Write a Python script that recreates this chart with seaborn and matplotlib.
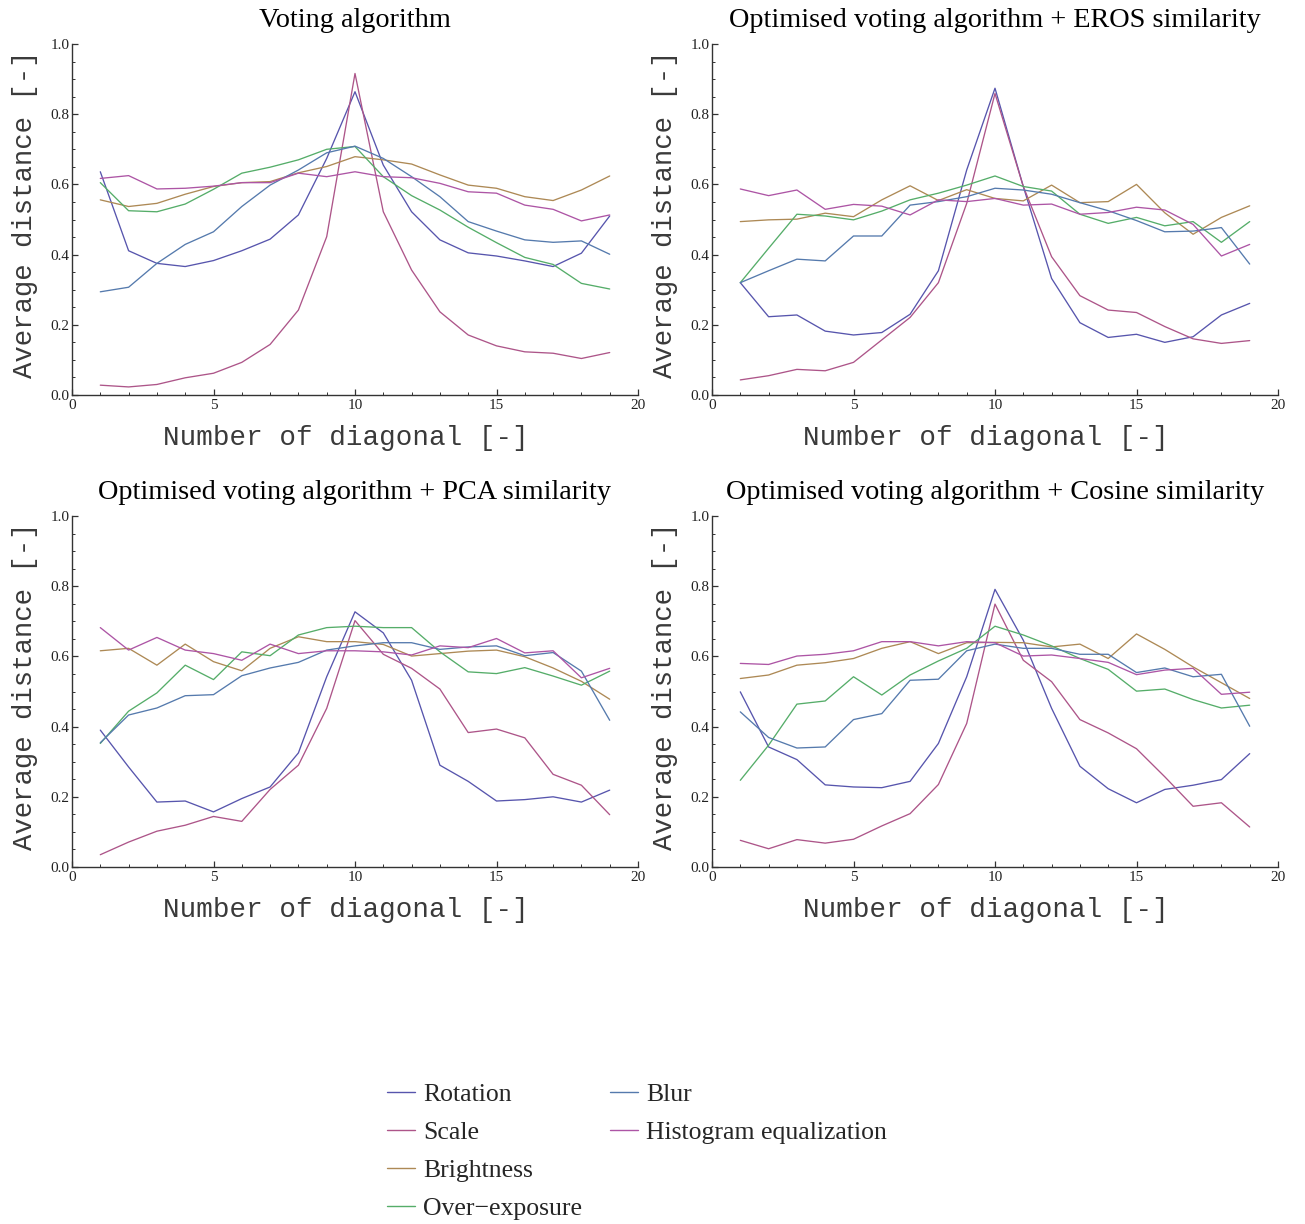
import numpy as np
import pandas as pd
import matplotlib
matplotlib.use("Agg")
import matplotlib.pyplot as plt
import seaborn as sns
from matplotlib.ticker import MultipleLocator, FormatStrFormatter
from matplotlib.lines import Line2D

# ---------------- data ----------------
diagonals = list(range(1, 20))
series_names = ["Rotation", "Scale", "Brightness", "Over\u2212exposure", "Blur",
                "Histogram equalization"]
panel_titles = ["Voting algorithm",
                "Optimised voting algorithm + EROS similarity",
                "Optimised voting algorithm + PCA similarity",
                "Optimised voting algorithm + Cosine similarity"]
x_label = "Number of diagonal [-]"
y_label = "Average distance [-]"
x_ticks = [0, 5, 10, 15, 20]
y_ticks = [0.0, 0.2, 0.4, 0.6, 0.8, 1.0]

# Panel 1: Voting algorithm
vote_rotation = [0.636, 0.411, 0.375, 0.366, 0.383, 0.411, 0.444, 0.513, 0.674, 0.864,
                 0.655, 0.522, 0.442, 0.405, 0.396, 0.382, 0.366, 0.404, 0.510]
vote_scale = [0.028, 0.023, 0.030, 0.049, 0.062, 0.093, 0.144, 0.242, 0.451, 0.916,
              0.522, 0.356, 0.237, 0.171, 0.140, 0.123, 0.119, 0.104, 0.121]
vote_brightness = [0.556, 0.537, 0.546, 0.572, 0.594, 0.605, 0.608, 0.633, 0.651, 0.679,
                   0.670, 0.658, 0.627, 0.598, 0.589, 0.565, 0.554, 0.584, 0.624]
vote_overexposure = [0.605, 0.525, 0.522, 0.544, 0.586, 0.632, 0.649, 0.670, 0.700, 0.708,
                     0.622, 0.568, 0.527, 0.478, 0.434, 0.392, 0.372, 0.318, 0.302]
vote_blur = [0.294, 0.307, 0.375, 0.429, 0.465, 0.537, 0.598, 0.641, 0.690, 0.709,
             0.674, 0.622, 0.565, 0.494, 0.467, 0.442, 0.435, 0.439, 0.401]
vote_histeq = [0.617, 0.625, 0.587, 0.589, 0.595, 0.605, 0.605, 0.632, 0.622, 0.636,
               0.622, 0.619, 0.603, 0.579, 0.575, 0.541, 0.529, 0.496, 0.513]

# Panel 2: EROS similarity
eros_rotation = [0.320, 0.223, 0.228, 0.182, 0.171, 0.178, 0.230, 0.354, 0.641, 0.874,
                 0.594, 0.332, 0.206, 0.164, 0.173, 0.150, 0.166, 0.228, 0.261]
eros_scale = [0.043, 0.055, 0.073, 0.069, 0.093, 0.157, 0.221, 0.320, 0.546, 0.859,
              0.594, 0.394, 0.283, 0.242, 0.235, 0.195, 0.160, 0.147, 0.155]
eros_brightness = [0.494, 0.499, 0.501, 0.518, 0.508, 0.556, 0.596, 0.554, 0.585, 0.560,
                   0.553, 0.598, 0.548, 0.551, 0.600, 0.519, 0.458, 0.506, 0.539]
eros_overexposure = [0.320, 0.418, 0.515, 0.510, 0.499, 0.524, 0.556, 0.575, 0.598, 0.624,
                     0.594, 0.581, 0.515, 0.489, 0.506, 0.482, 0.494, 0.435, 0.494]
eros_blur = [0.320, 0.354, 0.387, 0.382, 0.453, 0.453, 0.541, 0.551, 0.565, 0.589,
             0.584, 0.572, 0.548, 0.525, 0.497, 0.465, 0.467, 0.477, 0.373]
eros_histeq = [0.587, 0.568, 0.584, 0.529, 0.543, 0.538, 0.513, 0.556, 0.551, 0.560,
               0.541, 0.544, 0.515, 0.520, 0.535, 0.527, 0.486, 0.396, 0.429]

# Panel 3: PCA similarity
pca_rotation = [0.390, 0.285, 0.185, 0.188, 0.157, 0.195, 0.228, 0.325, 0.542, 0.727,
                0.667, 0.532, 0.290, 0.244, 0.188, 0.192, 0.200, 0.185, 0.219]
pca_scale = [0.035, 0.071, 0.102, 0.119, 0.144, 0.130, 0.221, 0.290, 0.452, 0.702,
             0.606, 0.566, 0.507, 0.383, 0.393, 0.368, 0.264, 0.233, 0.149]
pca_brightness = [0.616, 0.623, 0.575, 0.635, 0.585, 0.559, 0.623, 0.656, 0.642, 0.642,
                  0.634, 0.601, 0.608, 0.615, 0.618, 0.599, 0.567, 0.529, 0.478]
pca_overexposure = [0.352, 0.444, 0.496, 0.575, 0.534, 0.613, 0.602, 0.661, 0.682, 0.686,
                    0.682, 0.682, 0.613, 0.556, 0.551, 0.568, 0.544, 0.518, 0.558]
pca_blur = [0.354, 0.433, 0.453, 0.488, 0.491, 0.545, 0.567, 0.583, 0.618, 0.630,
            0.639, 0.639, 0.620, 0.627, 0.630, 0.602, 0.611, 0.558, 0.418]
pca_histeq = [0.682, 0.618, 0.654, 0.618, 0.608, 0.589, 0.635, 0.608, 0.616, 0.616,
              0.613, 0.604, 0.630, 0.625, 0.651, 0.610, 0.616, 0.539, 0.566]

# Panel 4: Cosine similarity
cos_rotation = [0.499, 0.342, 0.306, 0.234, 0.228, 0.226, 0.244, 0.352, 0.542, 0.791,
                0.646, 0.452, 0.287, 0.223, 0.183, 0.221, 0.233, 0.249, 0.323]
cos_scale = [0.076, 0.052, 0.078, 0.068, 0.079, 0.117, 0.152, 0.235, 0.409, 0.749,
             0.589, 0.528, 0.420, 0.382, 0.337, 0.257, 0.173, 0.183, 0.114]
cos_brightness = [0.537, 0.547, 0.575, 0.582, 0.594, 0.623, 0.642, 0.608, 0.639, 0.640,
                  0.639, 0.627, 0.635, 0.594, 0.664, 0.620, 0.570, 0.525, 0.480]
cos_overexposure = [0.247, 0.347, 0.464, 0.473, 0.542, 0.490, 0.547, 0.587, 0.623, 0.686,
                    0.661, 0.630, 0.594, 0.563, 0.501, 0.507, 0.477, 0.453, 0.461]
cos_blur = [0.442, 0.369, 0.339, 0.342, 0.420, 0.437, 0.532, 0.535, 0.616, 0.635,
            0.623, 0.623, 0.606, 0.606, 0.554, 0.567, 0.542, 0.549, 0.401]
cos_histeq = [0.580, 0.577, 0.601, 0.606, 0.616, 0.642, 0.642, 0.630, 0.642, 0.639,
              0.601, 0.604, 0.594, 0.583, 0.548, 0.561, 0.566, 0.492, 0.498]

panels = [
    [vote_rotation, vote_scale, vote_brightness, vote_overexposure, vote_blur, vote_histeq],
    [eros_rotation, eros_scale, eros_brightness, eros_overexposure, eros_blur, eros_histeq],
    [pca_rotation, pca_scale, pca_brightness, pca_overexposure, pca_blur, pca_histeq],
    [cos_rotation, cos_scale, cos_brightness, cos_overexposure, cos_blur, cos_histeq],
]

colors = ["#5755AD", "#AD5589", "#AD8955", "#55AD69", "#557AAD", "#AD55A5"]
palette = dict(zip(series_names, colors))

# ---------------- style ----------------
sns.set_theme(style="ticks")
serif = ["Liberation Serif", "DejaVu Serif"]
mono = ["Liberation Mono", "DejaVu Sans Mono"]
plt.rcParams["font.family"] = serif
plt.rcParams["axes.edgecolor"] = "#333333"
plt.rcParams["axes.linewidth"] = 1.0

W, H = 1305, 1224
fig = plt.figure(figsize=(W / 100, H / 100), dpi=100)

ax_px = [(72, 44), (712, 44), (72, 516), (712, 516)]  # (left, top) in pixels
aw, ah = 566, 351

for i, (lx, ty) in enumerate(ax_px):
    ax = fig.add_axes([lx / W, 1 - (ty + ah) / H, aw / W, ah / H])
    frames = []
    for name, vals in zip(series_names, panels[i]):
        frames.append(pd.DataFrame({"Diagonal": diagonals, "Value": vals, "Series": name}))
    df = pd.concat(frames, ignore_index=True)
    sns.lineplot(data=df, x="Diagonal", y="Value", hue="Series", hue_order=series_names,
                 palette=palette, estimator=None, linewidth=0.95, legend=False, ax=ax)
    ax.set_xlim(0, 20)
    ax.set_ylim(0, 1)
    ax.set_xticks(x_ticks)
    ax.set_yticks(y_ticks)
    ax.xaxis.set_minor_locator(MultipleLocator(1))
    ax.yaxis.set_minor_locator(MultipleLocator(0.05))
    ax.yaxis.set_major_formatter(FormatStrFormatter("%.1f"))
    ax.tick_params(which="major", direction="in", length=4.5, width=0.9,
                   labelsize=11, pad=3, colors="#333333", labelcolor="#222222")
    ax.tick_params(which="minor", direction="in", length=2.5, width=0.7, colors="#333333")
    ax.tick_params(axis="y", which="major", pad=2)
    sns.despine(ax=ax)
    ax.set_xlabel(x_label, family=mono, fontsize=19.9, color="#3a3a3a", labelpad=9)
    ax.set_ylabel(y_label, family=mono, fontsize=19.7, color="#3a3a3a", labelpad=9)
    ax.xaxis.label.set_x(0.484)
    ax.yaxis.label.set_y(0.516)
    ax.set_title(panel_titles[i], family=serif, fontsize=20.3, pad=12, color="black")

handles = [Line2D([0], [0], color=c, lw=1.0) for c in colors]
labels = list(series_names)
# pad the second column with invisible entries so the columns hold 4 and 2 items
handles = handles + [Line2D([0], [0], color="none")] * 2
labels = labels + ["", ""]
fig.legend(handles, labels, loc="upper left", bbox_to_anchor=(387 / W, 1 - 1083.5 / H),
           ncol=2, frameon=False, borderpad=0, borderaxespad=0,
           handlelength=1.09, handletextpad=0.31, columnspacing=1.1, labelspacing=0.58,
           prop={"family": serif, "size": 18.5})

fig.savefig("out.png", dpi=100, facecolor="white")
